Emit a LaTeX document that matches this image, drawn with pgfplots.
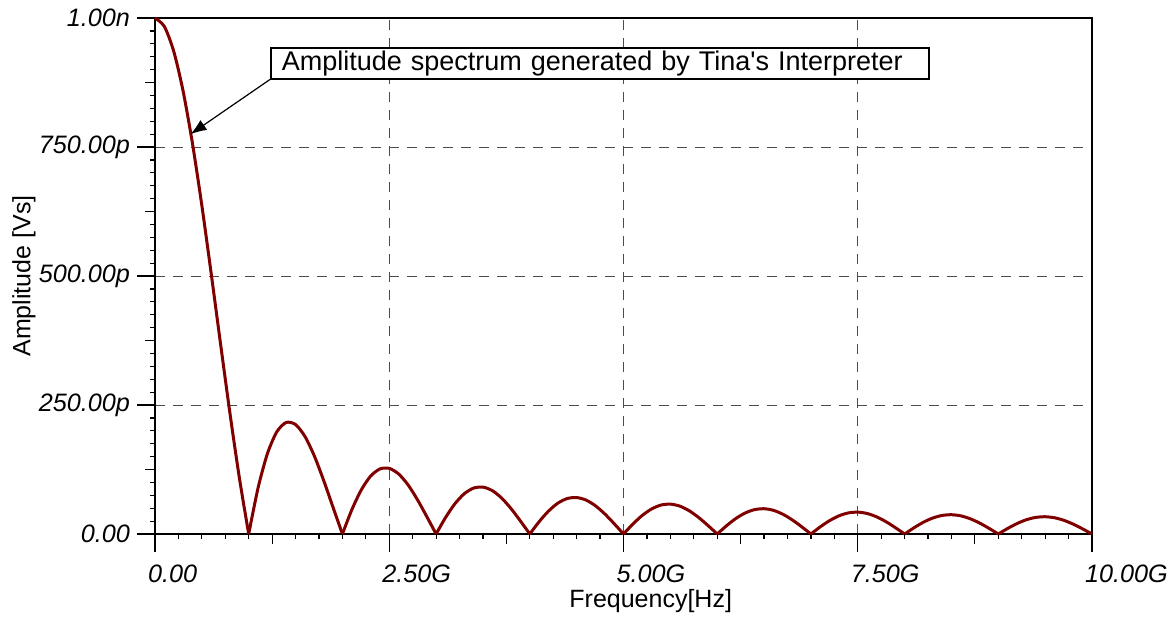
\documentclass[border=0pt]{standalone}
\usepackage{pgfplots}
\pgfplotsset{compat=1.18}
\usepackage{fontspec}
\setmainfont{Liberation Sans}
\newfontfamily\annfont{Liberation Sans}[Ligatures=TeXOff]
\usetikzlibrary{arrows.meta}
\definecolor{curve}{HTML}{800000}
\pgfplotsset{lobe/.style={curve, line width=1.5pt, smooth, tension=0.45, mark=none}}
\begin{document}
\begin{tikzpicture}
\path[use as bounding box] (-77.5pt,-44.5pt) rectangle (507.5pt,267pt);
\begin{axis}[
  scale only axis, width=468.5pt, height=258pt,
  xmin=0, xmax=10, ymin=0, ymax=1000,
  axis line style={line width=0.8pt},
  xtick={0,2.5,5,7.5,10},
  xticklabels={0.00,2.50G,5.00G,7.50G,10.00G},
  ytick={0,250,500,750,1000},
  yticklabels={0.00,250.00p,500.00p,750.00p,1.00n},
  minor tick num=9,
  tick align=outside,
  xtick pos=bottom, ytick pos=left,
  major tick length=9pt, minor tick length=2.5pt,
  tick style={black, line width=0.6pt},
  extra x ticks={1.25,3.75,6.25,8.75}, extra x tick labels={},
  extra y ticks={125,375,625,875}, extra y tick labels={},
  extra tick style={major tick length=5pt, grid=none},
  grid=major,
  major grid style={black!70, line width=0.5pt, dash pattern=on 5pt off 4pt},
  ticklabel style={font=\fontsize{12.6}{14}\selectfont\itshape},
  xticklabel style={anchor=north west, xshift=-7pt, yshift=-3pt},
  yticklabel style={anchor=east},
  xlabel={Frequency[Hz]},
  ylabel={Amplitude [Vs]},
  label style={font=\fontsize{12.5}{15}\selectfont},
  xlabel style={at={(axis description cs:0.529,-0.1425)}, anchor=base},
  ylabel style={at={(axis description cs:-0.1398,0.5)}, anchor=center},
  clip=false,
]
\addplot[lobe] coordinates {(0.0,1000) (0.1,983.6) (0.2,935.5) (0.3,858.4) (0.4,756.8) (0.5,636.6) (0.6,504.5) (0.7,367.9) (0.8,233.9) (0.9,109.3) (1.0,0)};
\addplot[lobe] coordinates {(1.0,0) (1.1,89.4) (1.2,155.9) (1.3,198.1) (1.4,216.2) (1.5,212.2) (1.6,189.2) (1.7,151.5) (1.8,103.9) (1.9,51.8) (2.0,0)};
\addplot[lobe] coordinates {(2.0,0) (2.1,46.8) (2.2,85.0) (2.3,112.0) (2.4,126.1) (2.5,127.3) (2.6,116.4) (2.7,95.4) (2.8,66.8) (2.9,33.9) (3.0,0)};
\addplot[lobe] coordinates {(3.0,0) (3.1,31.7) (3.2,58.5) (3.3,78.0) (3.4,89.0) (3.5,90.9) (3.6,84.1) (3.7,69.6) (3.8,49.2) (3.9,25.2) (4.0,0)};
\addplot[lobe] coordinates {(4.0,0) (4.1,24.0) (4.2,44.5) (4.3,59.9) (4.4,68.8) (4.5,70.7) (4.6,65.8) (4.7,54.8) (4.8,39.0) (4.9,20.1) (5.0,0)};
\addplot[lobe] coordinates {(5.0,0) (5.1,19.3) (5.2,36.0) (5.3,48.6) (5.4,56.1) (5.5,57.9) (5.6,54.1) (5.7,45.2) (5.8,32.3) (5.9,16.7) (6.0,0)};
\addplot[lobe] coordinates {(6.0,0) (6.1,16.1) (6.2,30.2) (6.3,40.9) (6.4,47.3) (6.5,49.0) (6.6,45.9) (6.7,38.4) (6.8,27.5) (6.9,14.3) (7.0,0)};
\addplot[lobe] coordinates {(7.0,0) (7.1,13.9) (7.2,26.0) (7.3,35.3) (7.4,40.9) (7.5,42.4) (7.6,39.8) (7.7,33.4) (7.8,24.0) (7.9,12.5) (8.0,0)};
\addplot[lobe] coordinates {(8.0,0) (8.1,12.1) (8.2,22.8) (8.3,31.0) (8.4,36.0) (8.5,37.4) (8.6,35.2) (8.7,29.6) (8.8,21.3) (8.9,11.1) (9.0,0)};
\addplot[lobe] coordinates {(9.0,0) (9.1,10.8) (9.2,20.3) (9.3,27.7) (9.4,32.2) (9.5,33.5) (9.6,31.5) (9.7,26.5) (9.8,19.1) (9.9,9.9) (10.0,0)};
\node[draw, line width=0.8pt, fill=white, anchor=north west, inner xsep=5.5pt, inner ysep=0pt,
      text width=318pt, minimum height=15.5pt, align=left,
      font=\annfont\fontsize{13.5}{15}\selectfont]
  (ann) at (axis cs:1.227,944) {Amplitude spectrum generated by Tina's Interpreter};
\draw[line width=0.6pt, -{Latex[length=8pt,width=6pt]}] (ann.south west) -- (axis cs:0.38,775);
\end{axis}
\end{tikzpicture}
\end{document}
